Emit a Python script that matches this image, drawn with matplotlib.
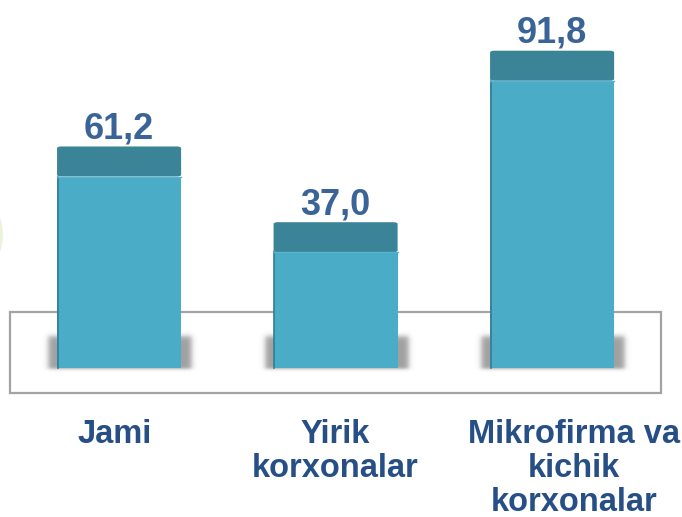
import matplotlib
matplotlib.use("Agg")
import numpy as np
import matplotlib.pyplot as plt
from matplotlib.patches import Rectangle, FancyBboxPatch, Ellipse

categories = ["Jami", "Yirik\nkorxonalar", "Mikrofirma va\nkichik\nkorxonalar"]
values = [61.2, 37.0, 91.8]
value_labels = ["61,2", "37,0", "91,8"]

front_color = "#4BACC8"
cap_color = "#3B8498"
value_color = "#3A6497"
cat_color = "#264F86"

plt.rcParams['font.family'] = ['Liberation Sans', 'DejaVu Sans']

fig = plt.figure(figsize=(6.82, 5.17), dpi=100)
ax = fig.add_axes([0, 0, 1, 1])
ax.axis('off')

XU = 216.5  # px per x unit
YU = 3.13   # px per y unit

x = list(range(len(values)))
width = 0.573
cap = 9.6  # depth of the 3D top cap in data units

# faint green patch at the left edge
fig.add_artist(Ellipse((-8 / 682, 282 / 517), 22 / 682, 50 / 517,
                       transform=fig.transFigure, facecolor="#e3efcf",
                       edgecolor="none", alpha=0.7))

# floor box
ax.add_patch(Rectangle((-0.503, -8.0), 3.006, 25.9, fill=False,
                       edgecolor="#a3a3a3", lw=1.6, zorder=1))

# soft shadows (blurred rectangle drawn as an image)
def ramp(d, w):
    return 0.5 * (1 + np.tanh(d / w))

for xi in x:
    left0 = xi - width / 2
    x0, x1 = left0 - 22 / XU, left0 + width + 24 / XU
    y0, y1 = -8 / YU, 44 / YU
    px = np.linspace(x0, x1, 220)
    py = np.linspace(y0, y1, 90)
    PX, PY = np.meshgrid(px, py)
    cl, cr = left0 - 9 / XU, left0 + width + 10 / XU
    cb, ct = -1 / YU, 32 / YU
    ax_ = ramp((PX - cl) * XU, 3.2) * ramp((cr - PX) * XU, 3.2)
    ay_ = ramp((PY - cb) * YU, 1.8) * ramp((ct - PY) * YU, 3.0)
    alpha = 0.6 * ax_ * ay_
    img = np.zeros(PX.shape + (4,))
    img[..., :3] = 0.38
    img[..., 3] = alpha
    ax.imshow(img, extent=(x0, x1, y0, y1), origin='lower', aspect='auto',
              interpolation='bilinear', zorder=2)

ax.set_xlim(-0.55, 2.60)
ax.set_ylim(-47.6, 117.6)

# front faces
ax.bar(x, values, width=width, color=front_color, edgecolor="none", zorder=3)
# darker left edge
for xi, v in zip(x, values):
    ax.plot([xi - width / 2 + 0.003] * 2, [0, v], color="#2f7f95", lw=1.2, zorder=4)
# top caps
for xi, v in zip(x, values):
    ax.add_patch(FancyBboxPatch((xi - width / 2, v), width, cap,
                                boxstyle="round,pad=0,rounding_size=0.02",
                                mutation_aspect=30,
                                facecolor=cap_color, edgecolor="none", zorder=4))
    ax.plot([xi - width / 2, xi + width / 2], [v, v], color="#55b5cf", lw=1.0, zorder=5)

# value labels
for xi, v, lab in zip(x, values, value_labels):
    ax.text(xi, v + cap + 2.6, lab, ha='center', va='baseline', fontsize=26,
            fontweight='bold', color=value_color, zorder=6)

# category labels
label_dx = [-0.02, 0.0, 0.10]
for xi, dx, lab in zip(x, label_dx, categories):
    ax.text(xi + dx, -16.3, lab, ha='center', va='top', fontsize=23.5, fontweight='bold',
            color=cat_color, linespacing=1.13, zorder=6)

fig.savefig("out.png", dpi=100)
